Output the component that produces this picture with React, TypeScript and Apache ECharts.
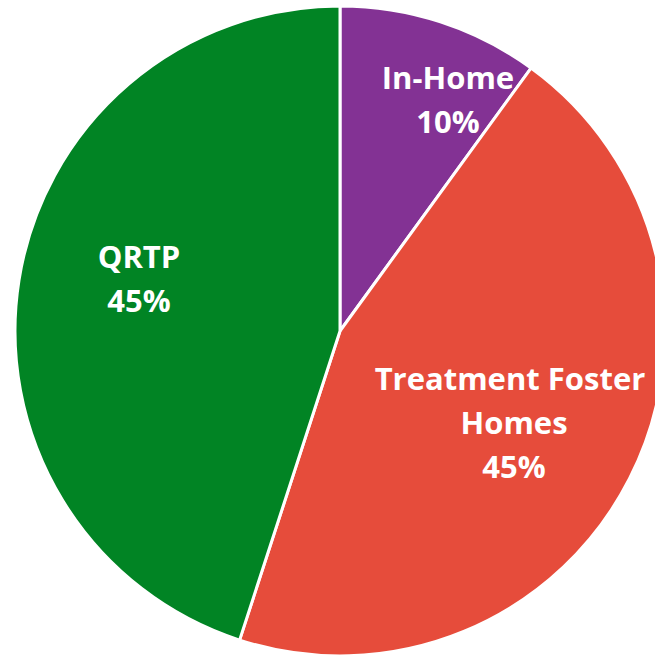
import React, { useEffect, useRef } from "react";
import * as echarts from "echarts";

const categories = ["In-Home", "Treatment Foster Homes", "QRTP"];
const values = [10, 45, 45];
const colors = ["#833294", "#E64C3B", "#018424"];
const labelCenters: [number, number][] = [
  [448, 99],
  [514, 422],
  [139, 278],
];

export default function App() {
  const ref = useRef<HTMLDivElement>(null);
  useEffect(() => {
    if (!ref.current) return;
    const chart = echarts.init(ref.current, null, { renderer: "svg" });
    chart.setOption({
      animation: false,
      series: [
        {
          type: "pie",
          center: [340, 331],
          radius: 325,
          startAngle: 90,
          clockwise: true,
          percentPrecision: 0,
          data: categories.map((name, i) => ({
            name,
            value: values[i],
            itemStyle: { color: colors[i] },
          })),
          itemStyle: { borderColor: "#ffffff", borderWidth: 3 },
          label: {
            show: true,
            position: "inside",
            formatter: "{b}\n{d}%",
            color: "#ffffff",
            fontFamily: "Open Sans",
            fontWeight: "bold",
            fontSize: 31,
            lineHeight: 44,
            width: 300,
            overflow: "break",
            align: "center",
          },
          labelLine: { show: false },
          labelLayout: (params: any) => {
            const c = labelCenters[params.dataIndex];
            return { x: c[0], y: c[1], align: "center", verticalAlign: "middle" };
          },
          emphasis: { disabled: true },
        },
      ],
    });
    return () => chart.dispose();
  }, []);
  return (
    <div
      ref={ref}
      style={{ position: "absolute", left: 0, top: 0, width: 655, height: 659 }}
    />
  );
}
